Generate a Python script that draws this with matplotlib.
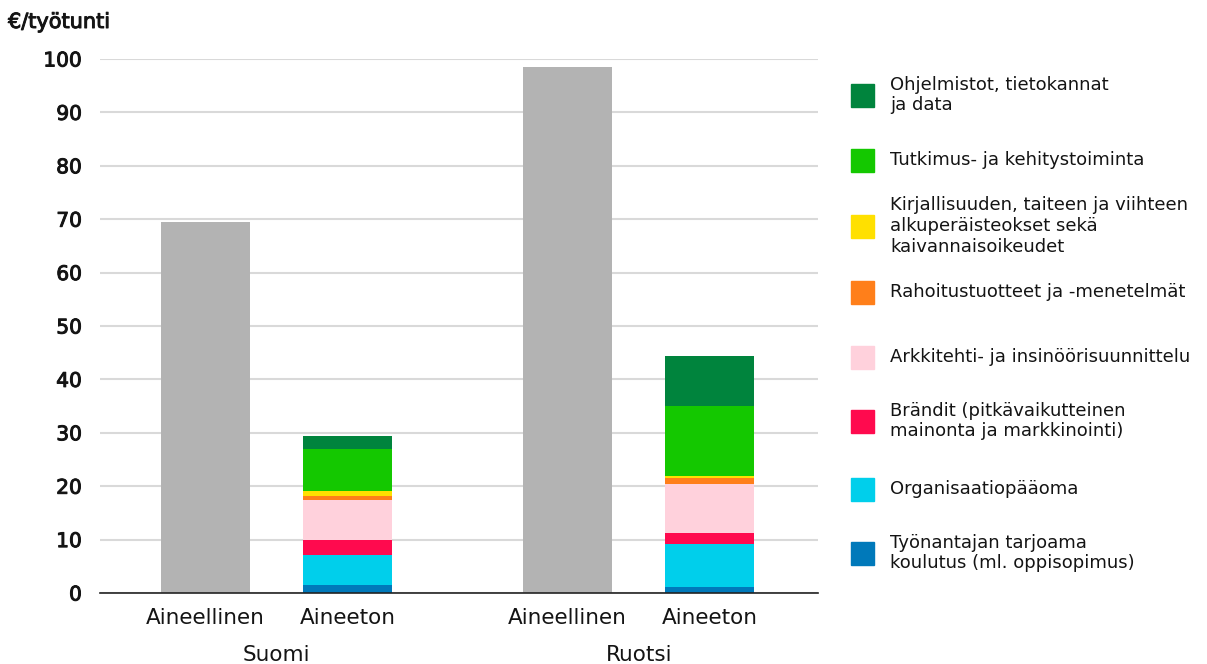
import matplotlib
matplotlib.use("Agg")
import matplotlib.pyplot as plt
import matplotlib.patheffects as pe
from matplotlib.patches import Rectangle
import numpy as np

plt.rcParams['font.family'] = ['DejaVu Sans']

countries = ["Suomi", "Ruotsi"]
bar_labels = ["Aineellinen", "Aineeton"]
tangible = [69.5, 98.5]

components = [
    "Työnantajan tarjoama\nkoulutus (ml. oppisopimus)",
    "Organisaatiopääoma",
    "Brändit (pitkävaikutteinen\nmainonta ja markkinointi)",
    "Arkkitehti- ja insinöörisuunnittelu",
    "Rahoitustuotteet ja -menetelmät",
    "Kirjallisuuden, taiteen ja viihteen\nalkuperäisteokset sekä\nkaivannaisoikeudet",
    "Tutkimus- ja kehitystoiminta",
    "Ohjelmistot, tietokannat\nja data",
]
suomi_intangible = [1.5, 5.6, 2.8, 7.5, 0.8, 0.9, 7.9, 2.4]
ruotsi_intangible = [1.1, 8.1, 2.0, 9.2, 1.1, 0.4, 13.1, 9.4]
colors = ["#0079BA", "#00CFEB", "#FF0A4E", "#FFD1DC", "#FF7F1A", "#FFE000", "#14C800", "#00843D"]
grey = "#B3B3B3"
yticks = [0, 10, 20, 30, 40, 50, 60, 70, 80, 90, 100]

fig = plt.figure(figsize=(12.07, 6.64), dpi=100)
ax = fig.add_axes([100/1207, 71/664, 718/1207, 534/664])

group_pos = [0.0, 2.55]
width = 0.627
intang = [suomi_intangible, ruotsi_intangible]
text_col = "#141414"
medium = [pe.withStroke(linewidth=0.7, foreground=text_col)]

for gi, g in enumerate(group_pos):
    ax.bar(g, tangible[gi], width=width, color=grey, zorder=2)
    bottom = 0.0
    for ci, v in enumerate(intang[gi]):
        ax.bar(g + 1, v, width=width, bottom=bottom, color=colors[ci], zorder=2)
        bottom += v

ax.set_xlim(-0.743, 4.313)
ax.set_ylim(0, 100)
ax.set_yticks(yticks)
ax.set_yticklabels([str(t) for t in yticks], fontsize=14.5, color=text_col)
for lab in ax.get_yticklabels():
    lab.set_path_effects(medium)
ax.tick_params(axis='y', length=0, pad=13)
ax.yaxis.grid(True, color="#d9d9d9", linewidth=1.5, zorder=0)
ax.set_axisbelow(True)
for s in ["top", "right", "left"]:
    ax.spines[s].set_visible(False)
ax.spines["bottom"].set_color("#222222")
ax.spines["bottom"].set_linewidth(1.2)
ax.spines["bottom"].set_zorder(3)

xt = []
xl = []
for g in group_pos:
    xt += [g, g + 1]
    xl += bar_labels
ax.set_xticks(xt)
ax.set_xticklabels(xl, fontsize=15.5, color=text_col)
ax.tick_params(axis='x', length=0, pad=11)
for gi, g in enumerate(group_pos):
    ax.text(g + 0.5, -0.117, countries[gi], transform=ax.get_xaxis_transform(),
            ha='center', va='center', fontsize=15.5, color=text_col)

fig.text(8/1207, 1 - 22/664, "€/työtunti", ha='left', va='center', fontsize=15,
         color=text_col, path_effects=medium)

# legend (top to bottom)
leg_y = [95, 160, 226, 292, 357, 421, 489, 553]
order = list(range(len(components)))[::-1]
for k, ci in enumerate(order):
    yc = leg_y[k]
    fig.patches.append(Rectangle((851/1207, 1 - (yc + 11.5)/664), 23/1207, 23/664,
                                 transform=fig.transFigure, color=colors[ci]))
    fig.text(890/1207, 1 - yc/664, components[ci], ha='left', va='center', fontsize=13,
             color=text_col, linespacing=1.2)

fig.savefig("out.png", dpi=100)
